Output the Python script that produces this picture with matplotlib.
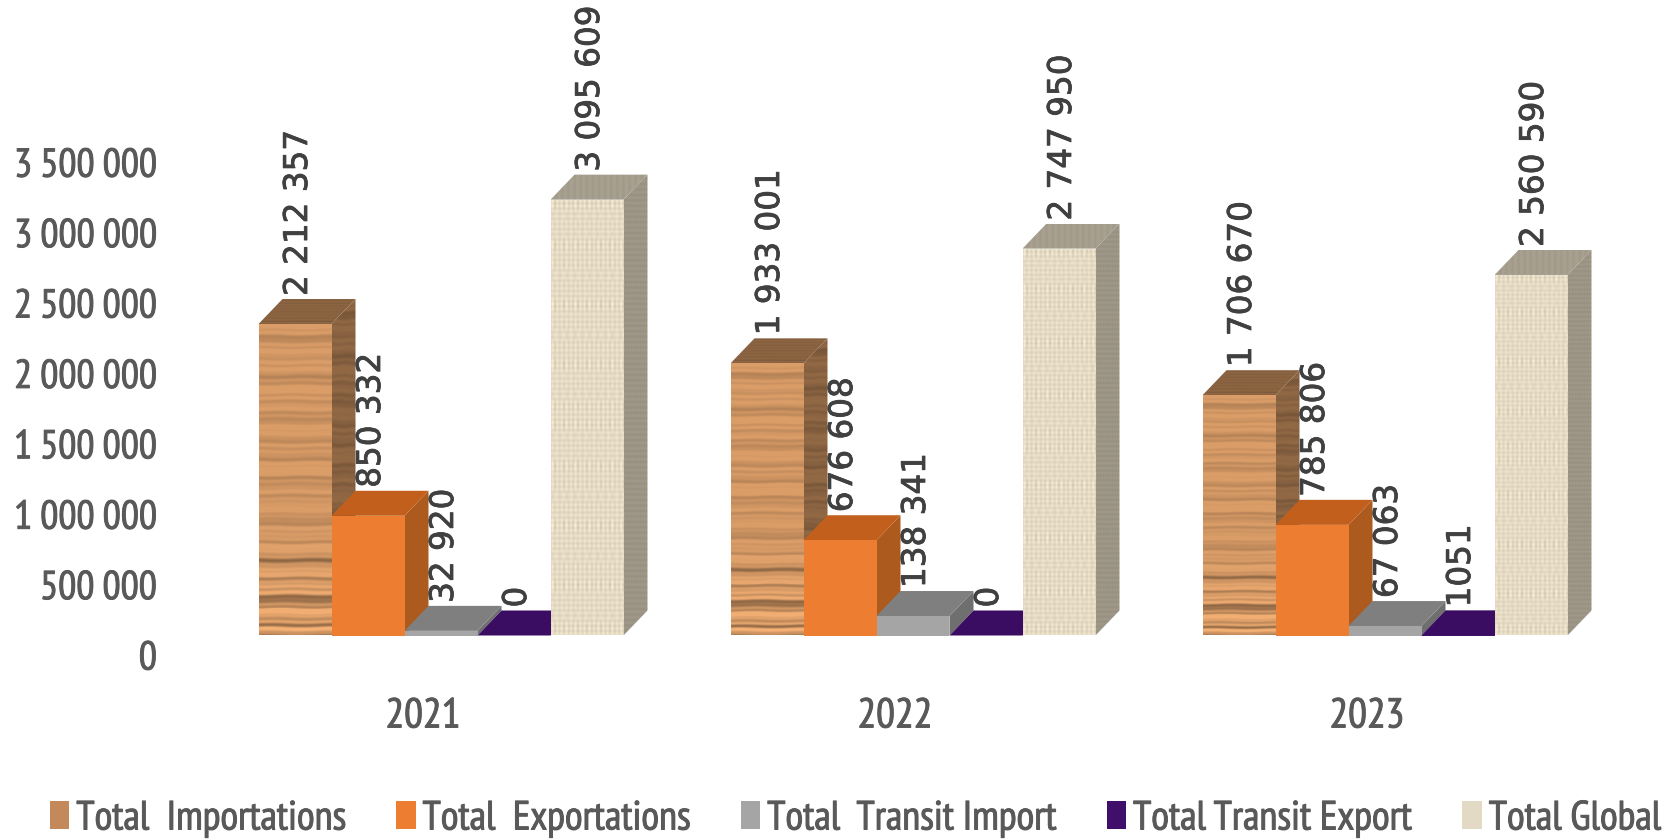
import numpy as np
import matplotlib
matplotlib.use('Agg')
import matplotlib.pyplot as plt
import matplotlib.patheffects as pe
from matplotlib.patches import Patch, Polygon
from matplotlib.transforms import ScaledTranslation

years = ['2021', '2022', '2023']
series = ['Total  Importations', 'Total  Exportations', 'Total  Transit Import',
          'Total Transit Export', 'Total Global']
importations = [2212357, 1933001, 1706670]
exportations = [850332, 676608, 785806]
transit_import = [32920, 138341, 67063]
transit_export = [0, 0, 1051]
total_global = [3095609, 2747950, 2560590]
values = [importations, exportations, transit_import, transit_export, total_global]

W, H, DPI = 1678, 840, 100
plt.rcParams['font.family'] = ['PT Sans Narrow', 'Liberation Sans', 'DejaVu Sans']

# pixel layout of the plot
PX_GROUP = 472
PX_BAR = 73
PX_500K = 70.4
PX_DX, PX_DY = 24, 25
AX_L, AX_R, AX_B, AX_T = 200, 1640, 635.5, 0
FIRST_CENTER = 441


def wood_texture():
    y = np.linspace(0, 1, 300)
    x = np.linspace(0, 1, 80)
    xx, yy = np.meshgrid(x, y)
    wave = yy + 0.0015 * np.sin(xx * 7 + yy * 20)
    s = (0.4 * np.sin(wave * 97) + 0.3 * np.sin(wave * 211 + 1) + 0.3 * np.sin(wave * 53 + 2)
         + 0.25 * np.sin(wave * 331 + 4))
    dark = np.minimum(s, 0.35)
    # stripes get stronger near the foot of the bar
    strength = 0.14 + 0.38 * np.clip((yy - 0.65) / 0.35, 0, 1)
    tex = np.stack([np.full_like(xx, c) for c in (0.82, 0.59, 0.39)], axis=-1)
    return np.clip(tex * (1 + strength * dark)[..., None], 0, 1)


def burlap_texture():
    y = np.arange(440)
    x = np.arange(73)
    xx, yy = np.meshgrid(x, y)
    weave = np.sin(xx * 2 * np.pi / 4.6) + np.sin(yy * 2 * np.pi / 5.2)
    streaks = (np.sin(xx * 0.83 + 1) + np.sin(xx * 1.37)) * (np.sin(yy * 0.31) + np.sin(yy * 0.113 + 2))
    shade = 1 + 0.026 * weave + 0.012 * streaks
    tex = np.stack([np.full_like(xx, c, dtype=float) for c in (0.90, 0.86, 0.77)], axis=-1)
    return np.clip(tex * shade[..., None], 0, 1)


def value_text(v):
    # the source writes 1051 without a separator
    return str(v) if v < 10000 else f'{v:,}'.replace(',', ' ')


fig = plt.figure(figsize=(W / DPI, H / DPI), dpi=DPI)
ax = fig.add_axes([AX_L / W, 1 - AX_B / H, (AX_R - AX_L) / W, (AX_B - AX_T) / H])

bar_w = PX_BAR / PX_GROUP
dx = PX_DX / PX_GROUP
dy = PX_DY / PX_500K * 500000
label_gap = 28 / PX_500K * 500000
label_dx = 2.5 / PX_GROUP

wood = wood_texture()
burlap = burlap_texture()
styles = [
    dict(tex=wood, color='#c4895a', side=0.66, top=0.66),
    dict(tex=None, color='#ed7d31', side_c='#ad5a1f', top_c='#c25f1c'),
    dict(tex=None, color='#a5a5a5', side_c='#6f6f6f', top_c='#7f7f7f'),
    dict(tex=None, color='#3f0f6b', side_c='#2c0a4c', top_c='#3a0d63'),
    dict(tex=burlap, color='#e3dac6', side=0.68, top=0.72),
]
heavy = [pe.withStroke(linewidth=0.7, foreground='#595959')]


def textured(poly, tex, shade, z):
    xs, ys = zip(*poly)
    im = ax.imshow(tex * shade, extent=[min(xs), max(xs), min(ys), max(ys)], origin='upper',
                   aspect='auto', zorder=z, interpolation='bilinear')
    clip = Polygon(poly, closed=True, transform=ax.transData, facecolor='none', edgecolor='none')
    ax.add_patch(clip)
    im.set_clip_path(clip)


z = 2
for g in range(len(years)):
    for s in range(len(series)):
        st = styles[s]
        v = values[s][g]
        left = g + (s - 2.5) * bar_w
        right = left + bar_w
        front = [(left, 0), (right, 0), (right, v), (left, v)]
        side = [(right, 0), (right + dx, dy), (right + dx, v + dy), (right, v)]
        top = [(left, v), (right, v), (right + dx, v + dy), (left + dx, v + dy)]
        if st['tex'] is not None:
            textured(side, st['tex'], st['side'], z)
            textured(top, st['tex'], st['top'], z + 0.1)
            textured(front, st['tex'], 1.0, z + 0.2)
        else:
            ax.add_patch(Polygon(side, closed=True, facecolor=st['side_c'], edgecolor='none', zorder=z))
            ax.add_patch(Polygon(top, closed=True, facecolor=st['top_c'], edgecolor='none', zorder=z + 0.1))
            ax.bar(left + bar_w / 2, v, bar_w, color=st['color'], zorder=z + 0.2)
        z += 1
        ax.text(left + bar_w / 2 + label_dx, v + label_gap, value_text(v), rotation=90, ha='center',
                va='bottom', family='DejaVu Sans', fontsize=23.5, color='#404040', zorder=200,
                clip_on=False, path_effects=[pe.withStroke(linewidth=0.6, foreground='#404040')])

ax.set_xlim((AX_L - FIRST_CENTER) / PX_GROUP, (AX_R - FIRST_CENTER) / PX_GROUP)
ax.set_ylim(0, AX_B / PX_500K * 500000)

for sp in ax.spines.values():
    sp.set_visible(False)
ax.patch.set_alpha(0)

ticks = list(range(0, 3500001, 500000))
ax.set_yticks(ticks)
ax.set_yticklabels([f'{t:,}'.replace(',', '\u2009') for t in ticks], fontsize=29)
ax.set_xticks(range(len(years)))
ax.set_xticklabels(years)
ax.tick_params(length=0, labelsize=30, labelcolor='#595959')
ax.tick_params(axis='y', pad=31, labelsize=29)
ax.tick_params(axis='x', pad=44.6)
for lab in ax.get_yticklabels():
    lab.set_transform(lab.get_transform() + ScaledTranslation(0, -19.5 / DPI, fig.dpi_scale_trans))
    lab.set_path_effects(heavy)
for lab in ax.get_xticklabels():
    lab.set_transform(lab.get_transform() + ScaledTranslation(-18 / DPI, 0, fig.dpi_scale_trans))
    lab.set_path_effects(heavy)

handles = [Patch(facecolor=st['color'], edgecolor='none') for st in styles]
leg = fig.legend(handles, series, loc='center', bbox_to_anchor=(0.51, 1 - 819 / H), ncol=5, frameon=False,
                 fontsize=29.4, labelcolor='#595959', handlelength=0.48, handleheight=0.68,
                 handletextpad=0.17, columnspacing=1.21, borderpad=0)
for t in leg.get_texts():
    t.set_path_effects(heavy)

fig.savefig('out.png', dpi=DPI)
